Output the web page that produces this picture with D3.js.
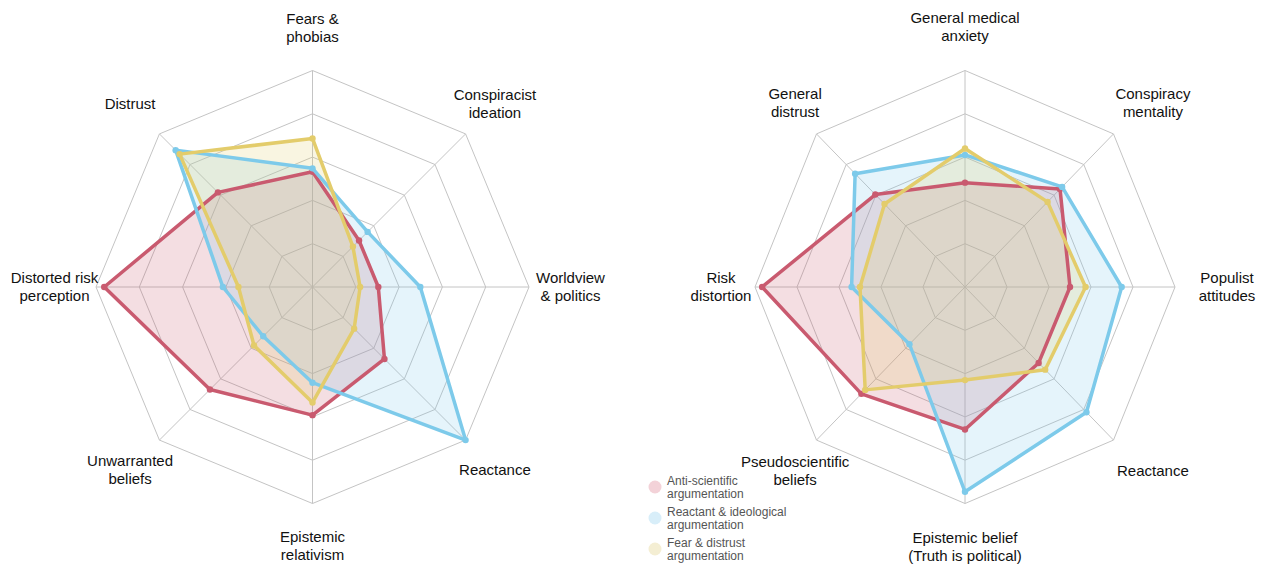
<!DOCTYPE html>
<html>
<head>
<meta charset="utf-8">
<script src="https://cdn.jsdelivr.net/npm/d3@7"></script>
<style>
  html, body { margin: 0; padding: 0; background: #ffffff; }
  svg { display: block; }
  text { font-family: "Liberation Sans", Arial, sans-serif; }
</style>
</head>
<body>
<svg id="chart" width="1271" height="569"></svg>
<script>
// Axis labels (one entry per line of text), clockwise from the top
const leftAxes = [
  ["Fears &", "phobias"],
  ["Conspiracist", "ideation"],
  ["Worldview", "& politics"],
  ["Reactance"],
  ["Epistemic", "relativism"],
  ["Unwarranted", "beliefs"],
  ["Distorted risk", "perception"],
  ["Distrust"]
];
const rightAxes = [
  ["General medical", "anxiety"],
  ["Conspiracy", "mentality"],
  ["Populist", "attitudes"],
  ["Reactance"],
  ["Epistemic belief", "(Truth is political)"],
  ["Pseudoscientific", "beliefs"],
  ["Risk", "distortion"],
  ["General", "distrust"]
];

// Profile scores per argumentation type (scale 0–5)
const leftAntiScientific = [2.66, 1.52, 1.52, 2.35, 2.96, 3.35, 4.81, 3.09];
const leftReactant       = [2.74, 1.80, 2.49, 5.00, 2.21, 1.61, 2.07, 4.47];
const leftFearDistrust   = [3.43, 1.32, 1.10, 1.36, 2.67, 1.91, 1.71, 4.34];

const rightAntiScientific = [2.41, 3.20, 2.50, 2.48, 3.29, 3.49, 4.83, 3.02];
const rightReactant       = [3.05, 3.27, 3.73, 4.09, 4.73, 1.87, 2.70, 3.70];
const rightFearDistrust   = [3.20, 2.78, 2.87, 2.70, 2.15, 3.36, 2.50, 2.71];

const seriesNames = [
  ["Anti-scientific", "argumentation"],
  ["Reactant & ideological", "argumentation"],
  ["Fear & distrust", "argumentation"]
];
const gridLevels = [1, 2, 3, 4, 5];
const maxValue = 5;

const lineColors = ["#c95a6f", "#7dcaea", "#e3cc6b"];
const legendColors = ["#f3d2d8", "#d8eef9", "#f4eed3"];

const svg = d3.select("#chart");

function drawRadar(cfg) {
  const n = cfg.axes.length;
  const angle = d3.scaleLinear().domain([0, n]).range([0, 2 * Math.PI]);
  const r = d3.scaleLinear().domain([0, maxValue]).range([0, 1]);
  const px = (i, v) => cfg.cx + Math.sin(angle(i)) * r(v) * cfg.rx;
  const py = (i, v) => cfg.cy - Math.cos(angle(i)) * r(v) * cfg.ry;

  const g = svg.append("g");
  const idx = d3.range(n);

  // grid rings
  g.selectAll("polygon.ring")
    .data(gridLevels)
    .join("polygon")
    .attr("class", "ring")
    .attr("points", lv => idx.map(i => [px(i, lv), py(i, lv)].join(",")).join(" "))
    .attr("fill", "none")
    .attr("stroke", "#c4c4c4")
    .attr("stroke-width", 1);

  // spokes
  g.selectAll("line.spoke")
    .data(idx)
    .join("line")
    .attr("class", "spoke")
    .attr("x1", cfg.cx).attr("y1", cfg.cy)
    .attr("x2", i => px(i, maxValue))
    .attr("y2", i => py(i, maxValue))
    .attr("stroke", "#c4c4c4")
    .attr("stroke-width", 1);

  const line = d3.line()
    .x((v, i) => px(i, v))
    .y((v, i) => py(i, v))
    .curve(d3.curveLinearClosed);

  // filled areas first, then outlines and markers
  cfg.series.forEach((vals, s) => {
    g.append("path")
      .attr("d", line(vals))
      .attr("fill", lineColors[s])
      .attr("fill-opacity", 0.2)
      .attr("stroke", "none");
  });
  cfg.series.forEach((vals, s) => {
    g.append("path")
      .attr("d", line(vals))
      .attr("fill", "none")
      .attr("stroke", lineColors[s])
      .attr("stroke-width", 3.5)
      .attr("stroke-linejoin", "round");
    g.selectAll(null)
      .data(vals)
      .join("circle")
      .attr("cx", (v, i) => px(i, v))
      .attr("cy", (v, i) => py(i, v))
      .attr("r", 3.2)
      .attr("fill", lineColors[s]);
  });

  // axis labels
  const lineH = 18;
  cfg.axes.forEach((lines, i) => {
    const a = angle(i);
    const s = Math.sin(a);
    const lx = cfg.cx + s * cfg.lrx + (Math.abs(s) > 0.01 ? cfg.shift : 0);
    const ly = cfg.cy - Math.cos(a) * cfg.lry;
    const t = g.append("text")
      .attr("x", lx)
      .attr("y", ly)
      .attr("text-anchor", "middle")
      .attr("font-size", 15)
      .attr("fill", "#111");
    lines.forEach((txt, k) => {
      t.append("tspan")
        .attr("x", lx)
        .attr("y", ly + (k - (lines.length - 1) / 2) * lineH + 5)
        .text(txt);
    });
  });
}

drawRadar({
  cx: 312.5, cy: 287, rx: 216.5, ry: 216.5,
  lrx: 258, lry: 259, shift: 0,
  axes: leftAxes,
  series: [leftAntiScientific, leftReactant, leftFearDistrust]
});

drawRadar({
  cx: 965, cy: 287, rx: 210, ry: 216.5,
  lrx: 253, lry: 260, shift: 9,
  axes: rightAxes,
  series: [rightAntiScientific, rightReactant, rightFearDistrust]
});

// legend
const legend = svg.append("g");
seriesNames.forEach((lines, s) => {
  const y = 487 + s * 31;
  legend.append("circle")
    .attr("cx", 655).attr("cy", y).attr("r", 6.5)
    .attr("fill", legendColors[s]);
  const t = legend.append("text")
    .attr("font-size", 12)
    .attr("fill", "#555");
  lines.forEach((txt, k) => {
    t.append("tspan")
      .attr("x", 667)
      .attr("y", y - 2 + k * 13)
      .text(txt);
  });
});
</script>
</body>
</html>
